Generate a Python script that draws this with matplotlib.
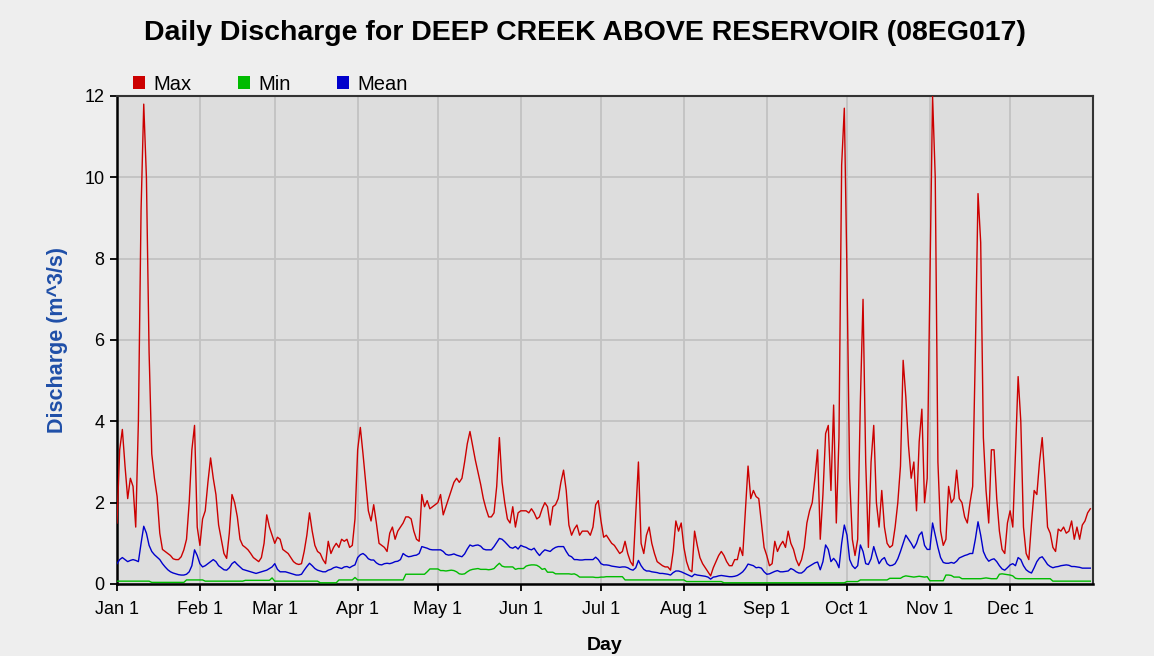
import numpy as np
import matplotlib
matplotlib.use("Agg")
import matplotlib.pyplot as plt
from matplotlib.patches import Patch

plt.rcParams["font.family"] = ["Liberation Sans", "DejaVu Sans"]

# Daily discharge statistics (m^3/s), one value per day, Jan 1 .. Dec 31
max_flow = [
    # Jan
    1.5, 3.3, 3.8, 2.9, 2.1, 2.6, 2.4, 1.4, 4.0, 9.2, 11.8, 10.0, 5.7, 3.2, 2.6, 2.15,
    1.25, 0.85, 0.8, 0.75, 0.7, 0.62, 0.6, 0.6, 0.67, 0.84, 1.1, 2.0, 3.3, 3.9, 1.4,
    # Feb
    0.95, 1.6, 1.8, 2.5, 3.1, 2.6, 2.2, 1.45, 1.1, 0.75, 0.63, 1.25, 2.2, 2.0, 1.65, 1.1,
    0.95, 0.9, 0.84, 0.75, 0.65, 0.6, 0.55, 0.65, 1.0, 1.7, 1.4, 1.2,
    # Mar
    1.0, 1.15, 1.1, 0.85, 0.8, 0.75, 0.65, 0.55, 0.5, 0.48, 0.5, 0.8, 1.2, 1.75, 1.3, 0.95,
    0.8, 0.75, 0.6, 0.5, 1.05, 0.75, 0.9, 1.0, 0.9, 1.1, 1.05, 1.1, 0.9, 0.95, 1.6,
    # Apr
    3.3, 3.85, 3.2, 2.5, 1.8, 1.55, 1.95, 1.5, 1.0, 0.95, 0.9, 0.8, 1.25, 1.4, 1.1, 1.3,
    1.4, 1.5, 1.65, 1.65, 1.6, 1.3, 1.1, 1.05, 2.2, 1.9, 2.05, 1.85, 1.9, 1.95,
    # May
    2.0, 2.2, 1.7, 1.9, 2.1, 2.3, 2.5, 2.6, 2.5, 2.6, 3.0, 3.45, 3.75, 3.4, 3.05, 2.75,
    2.45, 2.1, 1.85, 1.65, 1.65, 1.75, 2.4, 3.6, 2.5, 2.0, 1.6, 1.5, 1.9, 1.4, 1.75,
    # Jun
    1.8, 1.8, 1.8, 1.75, 1.85, 1.75, 1.6, 1.65, 1.85, 2.0, 1.9, 1.45, 1.9, 1.95, 2.1, 2.5,
    2.8, 2.3, 1.45, 1.2, 1.35, 1.45, 1.2, 1.3, 1.3, 1.3, 1.2, 1.4, 1.95, 2.05,
    # Jul
    1.55, 1.15, 1.2, 1.1, 1.0, 0.95, 0.85, 0.75, 0.8, 1.05, 0.75, 0.55, 0.45, 1.7, 3.0, 1.0,
    0.75, 1.2, 1.4, 1.0, 0.75, 0.55, 0.5, 0.45, 0.42, 0.42, 0.34, 0.8, 1.55, 1.3, 1.5,
    # Aug
    0.9, 0.55, 0.35, 0.3, 1.3, 0.95, 0.65, 0.5, 0.4, 0.3, 0.2, 0.4, 0.55, 0.7, 0.8, 0.7,
    0.55, 0.45, 0.45, 0.6, 0.6, 0.9, 0.7, 1.8, 2.9, 2.1, 2.3, 2.15, 2.1, 1.5, 0.9,
    # Sep
    0.7, 0.45, 0.5, 1.05, 0.8, 0.95, 1.05, 0.9, 1.3, 1.0, 0.85, 0.6, 0.45, 0.6, 0.9, 1.5,
    1.8, 2.0, 2.6, 3.3, 1.1, 2.2, 3.7, 3.9, 2.3, 4.4, 1.5, 3.6, 10.3, 11.7,
    # Oct
    7.6, 2.6, 1.1, 0.7, 1.1, 4.5, 7.0, 3.0, 0.9, 3.0, 3.9, 2.0, 1.4, 2.3, 1.4, 1.0,
    0.9, 0.95, 1.4, 2.0, 2.9, 5.5, 4.6, 3.4, 2.6, 3.0, 1.8, 3.5, 4.3, 2.0, 2.6,
    # Nov
    7.4, 12.0, 10.0, 3.0, 1.3, 0.95, 1.1, 2.4, 2.0, 2.1, 2.8, 2.1, 2.0, 1.65, 1.5, 2.0,
    2.4, 5.7, 9.6, 8.4, 3.6, 2.3, 1.5, 3.3, 3.3, 2.1, 1.3, 0.85, 0.75, 1.5,
    # Dec
    1.8, 1.4, 3.2, 5.1, 4.0, 1.4, 0.75, 0.6, 1.5, 2.3, 2.2, 3.0, 3.6, 2.6, 1.4, 1.25,
    0.9, 0.8, 1.35, 1.3, 1.4, 1.25, 1.3, 1.55, 1.1, 1.4, 1.1, 1.45, 1.55, 1.75, 1.85,
]

min_flow = [
    # Jan
    0.07, 0.07, 0.07, 0.07, 0.07, 0.07, 0.07, 0.07, 0.07, 0.07, 0.07, 0.07, 0.07, 0.04, 0.04, 0.04,
    0.04, 0.04, 0.04, 0.04, 0.04, 0.04, 0.04, 0.04, 0.04, 0.04, 0.1, 0.1, 0.1, 0.1, 0.1,
    # Feb
    0.1, 0.1, 0.07, 0.07, 0.07, 0.07, 0.07, 0.07, 0.07, 0.07, 0.07, 0.07, 0.07, 0.07, 0.07, 0.07,
    0.07, 0.09, 0.09, 0.09, 0.09, 0.09, 0.09, 0.09, 0.09, 0.09, 0.09, 0.15,
    # Mar
    0.07, 0.07, 0.07, 0.07, 0.07, 0.07, 0.07, 0.07, 0.07, 0.07, 0.07, 0.07, 0.07, 0.07, 0.07, 0.07,
    0.07, 0.03, 0.03, 0.03, 0.03, 0.03, 0.03, 0.03, 0.1, 0.1, 0.1, 0.1, 0.1, 0.1, 0.16,
    # Apr
    0.1, 0.1, 0.1, 0.1, 0.1, 0.1, 0.1, 0.1, 0.1, 0.1, 0.1, 0.1, 0.1, 0.1, 0.1, 0.1,
    0.1, 0.1, 0.24, 0.24, 0.24, 0.24, 0.24, 0.24, 0.24, 0.24, 0.3, 0.37, 0.37, 0.37,
    # May
    0.37, 0.33, 0.33, 0.32, 0.33, 0.34, 0.33, 0.3, 0.25, 0.24, 0.25, 0.3, 0.34, 0.36, 0.37, 0.38,
    0.36, 0.36, 0.36, 0.35, 0.36, 0.38, 0.45, 0.51, 0.44, 0.42, 0.42, 0.42, 0.42, 0.36, 0.38,
    # Jun
    0.38, 0.38, 0.44, 0.46, 0.47, 0.47, 0.46, 0.42, 0.36, 0.38, 0.29, 0.29, 0.29, 0.25, 0.25, 0.25,
    0.25, 0.25, 0.25, 0.24, 0.25, 0.22, 0.17, 0.17, 0.17, 0.17, 0.17, 0.17, 0.16, 0.16,
    # Jul
    0.17, 0.17, 0.18, 0.18, 0.18, 0.18, 0.18, 0.18, 0.18, 0.1, 0.1, 0.1, 0.1, 0.1, 0.1, 0.1,
    0.1, 0.1, 0.1, 0.1, 0.1, 0.1, 0.1, 0.1, 0.1, 0.1, 0.1, 0.1, 0.1, 0.1, 0.1,
    # Aug
    0.1, 0.06, 0.06, 0.06, 0.06, 0.06, 0.06, 0.06, 0.06, 0.06, 0.06, 0.06, 0.06, 0.06, 0.06, 0.03,
    0.03, 0.03, 0.03, 0.03, 0.03, 0.03, 0.03, 0.03, 0.03, 0.03, 0.03, 0.03, 0.03, 0.03, 0.03,
    # Sep
    0.03, 0.03, 0.03, 0.03, 0.03, 0.03, 0.03, 0.03, 0.03, 0.03, 0.03, 0.03, 0.03, 0.03, 0.03, 0.03,
    0.03, 0.03, 0.03, 0.03, 0.03, 0.03, 0.03, 0.03, 0.03, 0.03, 0.03, 0.03, 0.03, 0.03,
    # Oct
    0.06, 0.06, 0.06, 0.06, 0.06, 0.1, 0.1, 0.1, 0.1, 0.1, 0.1, 0.1, 0.1, 0.1, 0.1, 0.1,
    0.14, 0.14, 0.14, 0.14, 0.14, 0.18, 0.2, 0.19, 0.18, 0.17, 0.18, 0.19, 0.18, 0.17, 0.18,
    # Nov
    0.08, 0.08, 0.08, 0.08, 0.08, 0.08, 0.22, 0.22, 0.21, 0.17, 0.17, 0.17, 0.13, 0.13, 0.13, 0.13,
    0.13, 0.13, 0.13, 0.13, 0.14, 0.15, 0.14, 0.13, 0.13, 0.13, 0.24, 0.25, 0.24, 0.23,
    # Dec
    0.22, 0.2, 0.14, 0.13, 0.13, 0.13, 0.13, 0.13, 0.13, 0.13, 0.13, 0.13, 0.13, 0.13, 0.13, 0.13,
    0.07, 0.07, 0.07, 0.07, 0.07, 0.07, 0.07, 0.07, 0.07, 0.07, 0.07, 0.07, 0.07, 0.07, 0.07,
]

mean_flow = [
    # Jan
    0.5, 0.6, 0.65, 0.6, 0.55, 0.58, 0.6, 0.58, 0.55, 1.0, 1.42, 1.25, 0.95, 0.8, 0.72, 0.66,
    0.6, 0.5, 0.42, 0.35, 0.3, 0.27, 0.25, 0.23, 0.22, 0.22, 0.24, 0.3, 0.45, 0.84, 0.7,
    # Feb
    0.5, 0.42, 0.45, 0.5, 0.55, 0.6, 0.55, 0.45, 0.4, 0.35, 0.34, 0.4, 0.5, 0.55, 0.48, 0.42,
    0.36, 0.34, 0.32, 0.3, 0.28, 0.26, 0.28, 0.3, 0.32, 0.34, 0.38, 0.42,
    # Mar
    0.5, 0.36, 0.3, 0.3, 0.3, 0.28, 0.26, 0.24, 0.22, 0.22, 0.24, 0.34, 0.43, 0.51, 0.45, 0.38,
    0.34, 0.32, 0.3, 0.3, 0.34, 0.36, 0.4, 0.42, 0.4, 0.38, 0.42, 0.43, 0.4, 0.44, 0.47,
    # Apr
    0.65, 0.72, 0.75, 0.7, 0.62, 0.59, 0.59, 0.52, 0.48, 0.47, 0.5, 0.51, 0.5, 0.52, 0.55, 0.56,
    0.6, 0.75, 0.7, 0.67, 0.68, 0.7, 0.71, 0.75, 0.92, 0.9, 0.88, 0.85, 0.84, 0.84,
    # May
    0.84, 0.84, 0.8, 0.73, 0.71, 0.72, 0.74, 0.71, 0.69, 0.67, 0.74, 0.86, 0.96, 0.93, 0.95, 0.96,
    0.93, 0.86, 0.84, 0.84, 0.84, 0.92, 1.02, 1.12, 1.1, 1.04, 0.97, 0.9, 0.88, 0.92, 0.86,
    # Jun
    0.95, 0.92, 0.9, 0.86, 0.84, 0.88, 0.78, 0.7, 0.78, 0.84, 0.82, 0.8, 0.86, 0.9, 0.92, 0.92,
    0.92, 0.8, 0.7, 0.67, 0.6, 0.6, 0.59, 0.59, 0.6, 0.6, 0.6, 0.6, 0.66, 0.6,
    # Jul
    0.5, 0.47, 0.47, 0.46, 0.44, 0.43, 0.42, 0.41, 0.42, 0.42, 0.4, 0.36, 0.34, 0.4, 0.58, 0.45,
    0.36, 0.32, 0.32, 0.3, 0.29, 0.28, 0.26, 0.26, 0.25, 0.24, 0.22, 0.28, 0.32, 0.32, 0.3,
    # Aug
    0.27, 0.24, 0.21, 0.18, 0.24, 0.22, 0.21, 0.2, 0.19, 0.17, 0.12, 0.17, 0.18, 0.2, 0.21, 0.2,
    0.19, 0.18, 0.18, 0.19, 0.21, 0.25, 0.3, 0.38, 0.49, 0.47, 0.45, 0.4, 0.41, 0.39, 0.3,
    # Sep
    0.24, 0.25, 0.28, 0.31, 0.33, 0.3, 0.3, 0.31, 0.32, 0.38, 0.35, 0.3, 0.27, 0.27, 0.32, 0.4,
    0.44, 0.48, 0.52, 0.54, 0.35, 0.55, 0.96, 0.85, 0.55, 0.63, 0.55, 0.4, 1.0, 1.45,
    # Oct
    1.2, 0.6, 0.45, 0.38, 0.45, 0.96, 0.8, 0.5, 0.48, 0.62, 0.92, 0.7, 0.5, 0.6, 0.65, 0.5,
    0.45, 0.46, 0.5, 0.62, 0.8, 1.0, 1.2, 1.1, 1.0, 0.88, 1.0, 1.2, 1.28, 0.95, 0.85,
    # Nov
    0.85, 1.5, 1.2, 0.9, 0.65, 0.53, 0.51, 0.51, 0.53, 0.51, 0.56, 0.64, 0.67, 0.7, 0.72, 0.75,
    0.75, 1.1, 1.53, 1.2, 0.8, 0.65, 0.56, 0.6, 0.62, 0.55, 0.45, 0.37, 0.34, 0.4,
    # Dec
    0.47, 0.5, 0.45, 0.65, 0.6, 0.45, 0.35, 0.3, 0.27, 0.4, 0.55, 0.64, 0.67, 0.58, 0.48, 0.43,
    0.4, 0.42, 0.43, 0.45, 0.46, 0.47, 0.46, 0.43, 0.43, 0.42, 0.41, 0.39, 0.39, 0.39, 0.39,
]

month_lengths = [31, 28, 31, 30, 31, 30, 31, 31, 30, 31, 30, 31]
month_labels = ["Jan 1", "Feb 1", "Mar 1", "Apr 1", "May 1", "Jun 1",
                "Jul 1", "Aug 1", "Sep 1", "Oct 1", "Nov 1", "Dec 1"]

series = [
    ("Max", max_flow, "#CC0000"),
    ("Min", min_flow, "#00BB00"),
    ("Mean", mean_flow, "#0000CC"),
]

days = np.arange(len(max_flow))
month_starts = np.concatenate([[0], np.cumsum(month_lengths)[:-1]])

fig = plt.figure(figsize=(11.54, 6.56), dpi=100, facecolor="#EEEEEE")
ax = fig.add_axes([117 / 1154, 72 / 656, 976 / 1154, 488 / 656])
ax.set_facecolor("#DDDDDD")

for name, values, color in series:
    ax.plot(days, values, color=color, linewidth=1.0, zorder=3)

ax.set_xlim(0, 365)
ax.set_ylim(0, 12)
ax.set_xticks(month_starts)
ax.set_xticklabels(month_labels)
ax.set_yticks(np.arange(0, 13, 2))

ax.grid(True, color="#C2C2C2", linewidth=1.3, zorder=0)
ax.set_axisbelow(True)
ax.tick_params(direction="out", length=5, width=1.3, labelsize=13,
               colors="black")
ax.tick_params(axis="x", pad=7)
ax.tick_params(axis="y", pad=4)

for side in ["left", "bottom"]:
    ax.spines[side].set_linewidth(1.8)
    ax.spines[side].set_color("black")
for side in ["top", "right"]:
    ax.spines[side].set_linewidth(1.5)
    ax.spines[side].set_color("#333333")

ax.set_xlabel("Day", fontsize=14, fontweight="bold", labelpad=14)
ax.set_ylabel("Discharge (m^3/s)", fontsize=15.5, fontweight="bold",
              color="#1F4FA8", labelpad=12)

fig.suptitle("Daily Discharge for DEEP CREEK ABOVE RESERVOIR (08EG017)",
             x=0.507, y=0.970, fontsize=20.5, fontweight="bold")

handles = [Patch(facecolor=c, edgecolor="none", label=n) for n, _, c in series]
ax.legend(handles=handles, loc="lower left", bbox_to_anchor=(0.014, 1.0),
          ncol=3, frameon=False, fontsize=14.5, handlelength=0.62,
          handleheight=0.62, handletextpad=0.4, columnspacing=2.3,
          borderpad=0.0, borderaxespad=0.1)

fig.savefig("out.png", dpi=100, facecolor=fig.get_facecolor())
